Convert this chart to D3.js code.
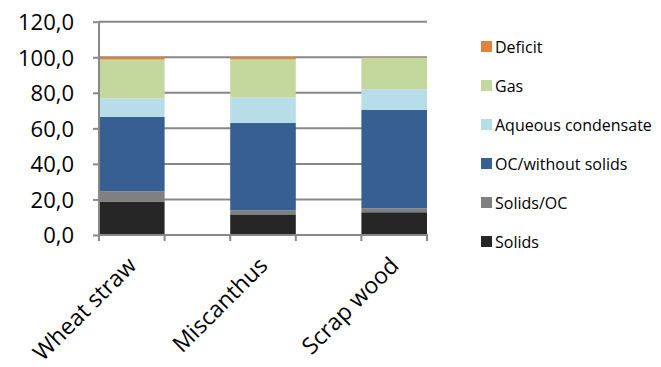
<!DOCTYPE html>
<html><head><meta charset="utf-8">
<script src="https://cdn.jsdelivr.net/npm/d3@7"></script>
<style>body{margin:0;background:#fff}svg{display:block}</style>
</head><body>
<script>
const categories = ["Wheat straw", "Miscanthus", "Scrap wood"];
const seriesNames = ["Solids", "Solids/OC", "OC/without solids", "Aqueous condensate", "Gas", "Deficit"];
const solids = [18.6, 11.6, 12.8];
const solidsOC = [6.0, 2.3, 2.2];
const ocWithoutSolids = [41.8, 49.1, 55.5];
const aqueous = [10.5, 14.3, 11.5];
const gas = [21.8, 21.5, 17.8];
const deficit = [1.3, 1.2, 0.2];
const yTicks = [0, 20, 40, 60, 80, 100, 120];
const colors = ["#262626", "#808080", "#375F92", "#B7DEE8", "#C4D79C", "#E0843C"];

const seriesValues = [solids, solidsOC, ocWithoutSolids, aqueous, gas, deficit];
const rows = categories.map((c, i) => {
  const r = {cat: c};
  seriesNames.forEach((s, j) => r[s] = seriesValues[j][i]);
  return r;
});

const W = 661, H = 367;
const svg = d3.select("body").append("svg").attr("width", W).attr("height", H);
const x = d3.scaleBand().domain(categories).range([99, 427]).paddingInner(0.5).paddingOuter(0);
const y = d3.scaleLinear().domain([0, 120]).range([235, 21.7]);

// gridlines
svg.append("g").selectAll("line").data(yTicks.filter(t => t > 0)).join("line")
  .attr("x1", 99).attr("x2", 427).attr("y1", d => y(d)).attr("y2", d => y(d))
  .attr("stroke", "#888").attr("stroke-width", 2);

const stack = d3.stack().keys(seriesNames)(rows);
svg.append("g").selectAll("g").data(stack).join("g")
  .attr("fill", (d, i) => colors[i])
  .selectAll("rect").data(d => d).join("rect")
  .attr("x", d => x(d.data.cat))
  .attr("width", x.bandwidth())
  .attr("y", d => y(d[1]))
  .attr("height", d => y(d[0]) - y(d[1]));

// y axis
const yAxis = svg.append("g").attr("transform", "translate(99,0)")
  .call(d3.axisLeft(y).tickValues(yTicks).tickSize(6).tickFormat(d => d3.format(".1f")(d).replace(".", ",")));
yAxis.select(".domain").attr("stroke", "#888").attr("stroke-width", 2).attr("d", `M0,${y(0)}V${y(120)}`);
yAxis.selectAll(".tick line").attr("stroke", "#888").attr("stroke-width", 2);
yAxis.selectAll(".tick text").attr("font-family", "Open Sans, sans-serif").attr("font-size", 22)
  .attr("fill", "#000").attr("x", -25).attr("dy", "0.36em");

// x axis
svg.append("line").attr("x1", 98).attr("x2", 428).attr("y1", y(0)).attr("y2", y(0))
  .attr("stroke", "#888").attr("stroke-width", 2);
const edges = [];
categories.forEach(c => { edges.push(x(c)); edges.push(x(c) + x.bandwidth()); });
svg.append("g").selectAll("line").data(edges).join("line")
  .attr("x1", d => d).attr("x2", d => d).attr("y1", y(0)).attr("y2", y(0) + 6)
  .attr("stroke", "#888").attr("stroke-width", 2);
svg.append("g").selectAll("text").data(categories).join("text")
  .attr("transform", d => `translate(${x(d) + x.bandwidth() / 2 + 6},${y(0) + 32}) rotate(-45)`)
  .attr("text-anchor", "end")
  .attr("font-family", "Open Sans, sans-serif").attr("font-size", 23)
  .text(d => d);

// legend
const legendOrder = seriesNames.slice().reverse();
const lg = svg.append("g").selectAll("g").data(legendOrder).join("g")
  .attr("transform", (d, i) => `translate(481,${47 + i * 39})`);
lg.append("rect").attr("x", 0).attr("y", -6).attr("width", 11).attr("height", 11)
  .attr("fill", d => colors[seriesNames.indexOf(d)]);
lg.append("text").attr("x", 14).attr("y", 0).attr("dy", "0.35em")
  .attr("font-family", "Open Sans, sans-serif").attr("font-size", 16).text(d => d);
</script>
</body></html>
